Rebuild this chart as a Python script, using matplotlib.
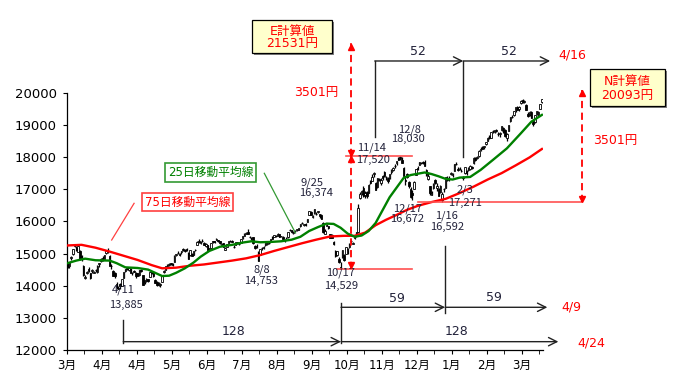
import numpy as np
import matplotlib
matplotlib.use('Agg')
import matplotlib.pyplot as plt
from matplotlib.patches import Rectangle

plt.rcParams['font.family'] = ['DejaVu Sans', 'Noto Sans CJK JP']

# daily candles, 2014/3/3 .. 2015/4/8 (one value per trading day)
opens = [
    14738, 14600, 14850, 14980, 15230, 15180, 15050, 15090, 14920, 14620, 14250, 14400, 14520, 14380, 14450, 14400, 14500, 14420, 14680, 14780,
    14860, 14840, 15010, 15080, 14920, 14620, 14450, 14390, 14050, 13930, 14060, 14000, 14250, 14460, 14560, 14480, 14520, 14390, 14470, 14400, 14380,
    14330, 14480, 14320, 14100, 14150, 14200, 14280, 14440, 14390, 14190, 14100, 14030, 14020, 14120, 14410, 14500, 14620, 14640, 14700, 14670,
    14750, 14950, 15020, 14990, 15050, 15130, 15120, 15130, 15010, 14950, 14990, 14960, 15100, 15260, 15400, 15340, 15380, 15340, 15220, 15250, 15150,
    15180, 15380, 15380, 15430, 15420, 15380, 15260, 15330, 15120, 15200, 15340, 15390, 15400, 15210, 15280, 15360, 15310, 15330, 15480, 15550, 15620, 15660,
    15500, 15480, 15500, 15230, 15240, 15030, 14950, 15160, 15180, 15250, 15300, 15330, 15380, 15500, 15520, 15560, 15560, 15600, 15530, 15520, 15420,
    15480, 15500, 15730, 15720, 15650, 15700, 15720, 15730, 15850, 15950, 15880, 15930, 15990, 16200, 16290, 16120, 16260, 16220, 16280, 16220,
    16190, 15950, 15620, 15870, 15840, 15610, 15590, 15360, 15090, 14960, 14830, 14570, 14880, 14960, 15000, 15110, 15210, 15390, 15300, 15480, 15530, 15660,
    16740, 16890, 17050, 16810, 16900, 16890, 17250, 17260, 17470, 17200, 17060, 17320, 17200, 17400, 17530, 17390, 17350, 17340,
    17520, 17600, 17730, 17800, 17930, 18000, 17900, 17650, 17280, 17470, 17210, 17000, 16870, 17020, 17440, 17650, 17760, 17810, 17850, 17840, 17600,
    17330, 17100, 16810, 17030, 17300, 17050, 17020, 16900, 16650, 17000, 17050, 17350, 17320, 17470, 17440, 17560, 17780, 17640, 17650,
    17560, 17390, 17500, 17550, 17600, 17630, 17700, 17800, 17980, 17960, 18030, 18230, 18300, 18300, 18400, 18500, 18650, 18600, 18810,
    18780, 18850, 18730, 18710, 18830, 18900, 18850, 18600, 18820, 19110, 19250, 19300, 19450, 19560, 19500, 19670, 19780, 19700, 19620, 19350, 19350, 19400,
    19100, 19090, 19350, 19300, 19500, 19700,
]
highs = [
    14740, 14740, 14930, 15150, 15310, 15220, 15240, 15100, 14950, 14640, 14330, 14460, 14570, 14400, 14520, 14470, 14530, 14640, 14720, 14850,
    14920, 14950, 15100, 15170, 14940, 14660, 14490, 14420, 14110, 14000, 14090, 14210, 14430, 14530, 14580, 14560, 14540, 14440, 14480, 14410, 14400,
    14500, 14520, 14330, 14190, 14230, 14220, 14440, 14450, 14420, 14200, 14130, 14100, 14080, 14340, 14480, 14620, 14660, 14690, 14720, 14690,
    14940, 15000, 15080, 15020, 15090, 15170, 15140, 15160, 15050, 15100, 15010, 15080, 15150, 15380, 15440, 15380, 15440, 15350, 15320, 15270, 15180,
    15330, 15400, 15400, 15480, 15430, 15400, 15330, 15340, 15200, 15310, 15400, 15420, 15410, 15260, 15350, 15370, 15340, 15460, 15540, 15650, 15680, 15760,
    15560, 15520, 15510, 15260, 15290, 15080, 15140, 15200, 15230, 15330, 15350, 15350, 15460, 15530, 15590, 15580, 15630, 15620, 15560, 15540, 15460,
    15520, 15680, 15760, 15730, 15690, 15730, 15760, 15800, 15920, 15990, 15930, 15950, 16080, 16330, 16320, 16190, 16374, 16280, 16320, 16230,
    16230, 15980, 15760, 15920, 15860, 15620, 15620, 15380, 15110, 15090, 14900, 14740, 15120, 14980, 15200, 15170, 15320, 15420, 15370, 15580, 15670, 16530,
    16910, 16980, 17090, 16930, 16950, 17150, 17290, 17460, 17520, 17230, 17360, 17360, 17340, 17440, 17580, 17420, 17380, 17480,
    17620, 17700, 17780, 17890, 17990, 18030, 18000, 17680, 17390, 17500, 17250, 17060, 16960, 17240, 17630, 17730, 17860, 17830, 17880, 17910, 17620,
    17540, 17110, 16950, 17200, 17330, 17190, 17050, 17140, 16900, 17040, 17370, 17400, 17400, 17520, 17490, 17790, 17850, 17700, 17700,
    17640, 17420, 17700, 17590, 17680, 17740, 17720, 17990, 18010, 18040, 18210, 18300, 18340, 18350, 18480, 18610, 18690, 18790, 18840,
    18840, 18870, 18780, 18770, 18980, 18920, 18860, 18760, 19000, 19260, 19300, 19440, 19550, 19590, 19590, 19780, 19790, 19780, 19640, 19400, 19420, 19440,
    19170, 19320, 19440, 19420, 19650, 19800,
]
lows = [
    14560, 14560, 14800, 14960, 15190, 15080, 15040, 14800, 14780, 14300, 14200, 14360, 14440, 14200, 14400, 14380, 14430, 14400, 14580, 14740,
    14770, 14830, 14980, 15010, 14600, 14530, 14290, 14240, 13885, 13890, 13900, 13990, 14240, 14440, 14480, 14460, 14400, 14340, 14410, 14240, 14290,
    14300, 14430, 14010, 14050, 14120, 14110, 14270, 14360, 14280, 14070, 13980, 13990, 13960, 14110, 14380, 14490, 14590, 14620, 14650, 14600,
    14740, 14920, 14990, 14920, 15000, 15090, 15050, 15080, 14840, 14930, 14910, 14950, 15090, 15250, 15330, 15290, 15360, 15250, 15210, 15090, 15110,
    15170, 15340, 15320, 15410, 15360, 15300, 15250, 15200, 15100, 15190, 15330, 15350, 15350, 15180, 15270, 15310, 15260, 15320, 15460, 15540, 15600, 15610,
    15480, 15430, 15300, 15140, 15180, 14753, 14940, 15110, 15150, 15230, 15280, 15300, 15360, 15440, 15500, 15510, 15550, 15500, 15500, 15450, 15370,
    15440, 15490, 15700, 15650, 15620, 15680, 15700, 15720, 15830, 15910, 15840, 15870, 15980, 16190, 16200, 16090, 16240, 16200, 16260, 16110,
    16060, 15640, 15600, 15840, 15760, 15470, 15470, 15280, 14900, 14930, 14690, 14529, 14860, 14760, 14990, 14990, 15170, 15340, 15290, 15460, 15500, 15640,
    16690, 16820, 16760, 16720, 16720, 16870, 17170, 17250, 17380, 16970, 17050, 17250, 17120, 17280, 17390, 17300, 17200, 17320,
    17480, 17560, 17650, 17760, 17900, 17900, 17800, 17400, 17120, 17340, 17050, 16740, 16672, 17010, 17430, 17600, 17740, 17780, 17790, 17720, 17420,
    17300, 16810, 16810, 17000, 17170, 16950, 16780, 16880, 16592, 16920, 17030, 17240, 17260, 17440, 17380, 17550, 17740, 17560, 17590,
    17520, 17271, 17480, 17440, 17570, 17600, 17620, 17790, 17890, 17950, 18000, 18190, 18240, 18260, 18380, 18490, 18560, 18590, 18740,
    18760, 18780, 18660, 18630, 18820, 18750, 18620, 18500, 18800, 19100, 19200, 19280, 19410, 19450, 19440, 19650, 19680, 19680, 19450, 19240, 19280, 19200,
    18960, 19060, 19320, 19290, 19490, 19690,
]
closes = [
    14652, 14721, 14897, 15135, 15274, 15120, 15224, 14830, 14816, 14327, 14278, 14411, 14463, 14224, 14475, 14423, 14477, 14622, 14696, 14828,
    14791, 14946, 15071, 15063, 14607, 14606, 14300, 14300, 13960, 13910, 13997, 14203, 14417, 14516, 14513, 14546, 14404, 14405, 14430, 14289, 14304,
    14485, 14457, 14033, 14163, 14199, 14150, 14425, 14405, 14298, 14097, 14007, 14075, 14042, 14337, 14462, 14602, 14637, 14670, 14681, 14632,
    14935, 14976, 15006, 14953, 15077, 15124, 15069, 15099, 14843, 15098, 14933, 15075, 15115, 15361, 15349, 15369, 15376, 15267, 15309, 15095, 15162,
    15326, 15369, 15349, 15437, 15379, 15314, 15302, 15216, 15164, 15297, 15395, 15379, 15371, 15215, 15343, 15328, 15284, 15457, 15529, 15618, 15646, 15621,
    15523, 15474, 15320, 15160, 15232, 14778, 15130, 15161, 15213, 15314, 15318, 15322, 15449, 15454, 15586, 15539, 15613, 15521, 15534, 15459, 15424,
    15476, 15668, 15728, 15676, 15668, 15705, 15749, 15788, 15909, 15948, 15911, 15888, 16067, 16321, 16205, 16167, 16374, 16229, 16310, 16173,
    16082, 15661, 15708, 15891, 15784, 15479, 15478, 15300, 14937, 15073, 14738, 14532, 15112, 14804, 15196, 15138, 15291, 15389, 15330, 15553, 15658, 16414,
    16862, 16937, 16793, 16880, 16781, 17125, 17197, 17392, 17490, 16974, 17344, 17288, 17300, 17358, 17407, 17383, 17249, 17460,
    17590, 17664, 17720, 17888, 17920, 17935, 17813, 17412, 17257, 17371, 17099, 16756, 16820, 17211, 17621, 17635, 17854, 17808, 17818, 17729, 17451,
    17408, 16884, 16885, 17167, 17198, 17088, 16796, 17109, 16864, 17015, 17366, 17280, 17330, 17511, 17468, 17769, 17796, 17606, 17674,
    17558, 17335, 17678, 17504, 17648, 17712, 17653, 17979, 17913, 18004, 18199, 18264, 18264, 18332, 18466, 18603, 18585, 18785, 18798,
    18826, 18815, 18704, 18751, 18971, 18790, 18665, 18723, 18992, 19254, 19246, 19438, 19544, 19476, 19560, 19754, 19714, 19746, 19471, 19286, 19412, 19207,
    19035, 19312, 19435, 19398, 19641, 19790,
]

# moving averages (day index, value)
ma25_idx = [0, 5, 10, 16, 24, 28, 33, 40, 46, 50, 54, 58, 62, 67, 72, 76, 81, 87, 94, 100,
            105, 110, 116, 122, 128, 133, 138, 143, 148, 152, 156, 160, 164, 168, 172, 176, 180, 184, 188, 192,
            196, 200, 204, 208, 212, 216, 220, 224, 230, 236, 243, 251, 259, 265, 271]
ma25_val = [14700, 14780, 14840, 14790, 14780, 14700, 14570, 14550, 14500, 14400, 14300, 14310, 14400, 14540, 14720, 14900, 15080, 15210, 15270, 15340,
            15380, 15350, 15360, 15380, 15430, 15520, 15700, 15820, 15930, 15920, 15800, 15620, 15520, 15560, 15700, 15950, 16350, 16750, 17050, 17350,
            17440, 17480, 17520, 17470, 17400, 17320, 17300, 17360, 17380, 17600, 17910, 18270, 18740, 19100, 19310]
ma75_idx = [0, 8, 16, 24, 32, 40, 48, 54, 62, 70, 78, 86, 94, 102, 110, 118, 126, 134, 142, 150,
            158, 164, 170, 176, 182, 188, 194, 200, 208, 216, 224, 232, 240, 248, 256, 264, 271]
ma75_val = [15250, 15270, 15180, 15060, 14930, 14800, 14640, 14540, 14560, 14620, 14660, 14720, 14780, 14850, 14950, 15080, 15200, 15320, 15430, 15530,
            15550, 15550, 15650, 15880, 16050, 16200, 16360, 16480, 16600, 16700, 16880, 17080, 17300, 17500, 17740, 17990, 18250]

month_labels = ['3月', '4月', '4月', '5月', '6月', '7月', '8月', '9月', '10月', '11月', '12月', '1月', '2月', '3月']

o = np.array(opens)
h = np.array(highs)
l = np.array(lows)
c = np.array(closes)
idx = np.arange(len(c))
up = c >= o

fig = plt.figure(figsize=(6.73, 3.82), dpi=100)
ax = fig.add_axes([66.7 / 673, 1 - 350 / 382, 476.1 / 673, 257.3 / 382])

# candles
ax.vlines(idx, l, h, color='black', lw=0.9, zorder=2)
ax.bar(idx[up], (c - o)[up], bottom=o[up], width=0.85, color='white', edgecolor='black', lw=0.6, zorder=3)
ax.bar(idx[~up], (o - c)[~up], bottom=c[~up], width=0.85, color='black', edgecolor='black', lw=0.6, zorder=3)

# moving averages
ax.plot(ma75_idx, ma75_val, color='#FF0000', lw=1.7, zorder=4)
ax.plot(ma25_idx, ma25_val, color='#008000', lw=1.7, zorder=4)

ax.set_xlim(-0.5, 271.5)
ax.set_ylim(12000, 20000)
ax.set_yticks(range(12000, 20001, 1000))
ax.set_xticks(np.arange(-0.5, 271, 20))
ax.set_xticklabels(month_labels)
ax.set_xticks(np.arange(-0.5, 272, 10), minor=True)
ax.tick_params(axis='y', labelsize=9.5, length=3, pad=4, direction='out')
ax.tick_params(axis='x', which='both', labelsize=8.5, length=3, pad=3.5, direction='out')
for s in ['top', 'right']:
    ax.spines[s].set_visible(False)
for s in ['left', 'bottom']:
    ax.spines[s].set_linewidth(0.9)

red = '#FF0000'
ink = '#22223a'


def label(x, y, s, color=ink, size=8, fam=None, ha='center'):
    kw = {}
    if fam:
        kw['family'] = fam
    ax.text(x, y, s, color=color, fontsize=size, ha=ha, va='center', zorder=6, **kw)


def harrow(x1, x2, y):
    ax.annotate('', xy=(x2, y), xytext=(x1, y), annotation_clip=False,
                arrowprops=dict(arrowstyle='->,head_length=0.6,head_width=0.3', color='#222222',
                                lw=1, shrinkA=0, shrinkB=0))


def vline(x, y1, y2, color='#222222', lw=1, ls='-'):
    ax.plot([x, x], [y1, y2], color=color, lw=lw, ls=ls, clip_on=False, zorder=5)


def dbl(x, top, bot):
    vline(x, bot, top, color=red, lw=1.3, ls=(0, (4, 2.5)))
    ax.plot(x, top - 105, marker='^', ms=5, color=red, clip_on=False, zorder=6)
    ax.plot(x, bot + 105, marker='v', ms=5, color=red, clip_on=False, zorder=6)


# pivot labels
jp = ['Noto Sans CJK JP']
label(31.7, 13863, '4/11', fam=jp)
label(33.4, 13397, '13,885', fam=jp)
label(110.9, 14488, '8/8', fam=jp)
label(110.5, 14146, '14,753', fam=jp)
label(139.5, 17202, '9/25', fam=jp)
label(142.0, 16891, '16,374', fam=jp)
label(156.2, 14394, '10/17', fam=jp)
label(156.2, 13990, '14,529', fam=jp)
label(173.8, 18281, '11/14', fam=jp)
label(174.7, 17908, '17,520', fam=jp)
label(195.6, 18862, '12/8', fam=jp)
label(194.7, 18551, '18,030', fam=jp)
label(194.0, 16406, '12/17', fam=jp)
label(194.0, 16073, '16,672', fam=jp)
label(216.6, 16167, '1/16', fam=jp)
label(216.8, 15834, '16,592', fam=jp)
label(227.1, 16975, '2/3', fam=jp)
label(227.1, 16571, '17,271', fam=jp)

# level lines
ax.plot([159.1, 196.6], [18030, 18030], color='#FF5050', lw=1.2, clip_on=False, zorder=5)
ax.plot([153.8, 196.6], [14529, 14529], color='#FF5050', lw=1.2, clip_on=False, zorder=5)
ax.plot([200.2, 293.8], [16592, 16592], color='#FF5050', lw=1.2, clip_on=False, zorder=5)

# E / N calculation arrows
dbl(161.8, 21531, 18030)
dbl(161.8, 18030, 14529)
dbl(293.8, 20093, 16592)
label(154.5, 19991, '3501円', color=red, size=9, ha='right')
label(312.8, 18529, '3501円', color=red, size=9)

for x0, w, y0, hh, t1, t2, xc, y1, y2 in [
        (105.2, 45.7, 21225, 1035, 'E計算値', '21531円', 128.2, 21896, 21536),
        (298.5, 42.9, 19586, 1141, 'N計算値', '20093円', 319.9, 20342, 19928)]:
    ax.add_patch(Rectangle((x0 + 1.1, y0 - 60), w, hh, facecolor='#808080', edgecolor='none',
                           clip_on=False, zorder=6))
    ax.add_patch(Rectangle((x0, y0), w, hh, facecolor='#FFFFCC', edgecolor='black', lw=0.9,
                           clip_on=False, zorder=7))
    ax.text(xc, y1, t1, color=red, fontsize=9, ha='center', va='center', zorder=8)
    ax.text(xc, y2, t2, color=red, fontsize=9, ha='center', va='center', zorder=8)

# 52-day count
vline(175.5, 18623, 20986)
vline(226.1, 18001, 20986)
harrow(175.5, 226.1, 20986)
harrow(226.1, 275.7, 20986)
label(200.3, 21296, '52', size=9)
label(252.3, 21296, '52', size=9)
label(288.1, 21172, '4/16', color=red, size=9)

# 59-day count
vline(156.2, 12209, 13461)
vline(215.7, 13149, 15234)
harrow(156.2, 215.7, 13328)
harrow(215.7, 274.1, 13328)
label(188.1, 13608, '59', size=9)
label(243.3, 13617, '59', size=9)
label(287.7, 13337, '4/9', color=red, size=9)

# 128-day count
vline(31.8, 12209, 12933)
harrow(31.8, 156.2, 12259)
harrow(156.2, 280.4, 12259)
label(94.7, 12569, '128', size=9)
label(222.4, 12560, '128', size=9)
label(299.5, 12227, '4/24', color=red, size=9)

# moving average callouts
ax.text(81.6, 17519, '25日移動平均線', color='#008000', fontsize=8.5, ha='center', va='center', zorder=8,
        bbox=dict(boxstyle='square,pad=0.25', facecolor='white', edgecolor='#339933', lw=1.2))
ax.plot([112.4, 130.2], [17494, 15638], color='#339933', lw=0.9, zorder=5)
ax.text(68.5, 16602, '75日移動平均線', color='#FF0000', fontsize=8.5, ha='center', va='center', zorder=8,
        bbox=dict(boxstyle='square,pad=0.25', facecolor='white', edgecolor='#FF4040', lw=1.2))
ax.plot([38.0, 25.2], [16561, 15420], color='#FF4040', lw=0.9, zorder=5)

fig.savefig('out.png', dpi=100)
